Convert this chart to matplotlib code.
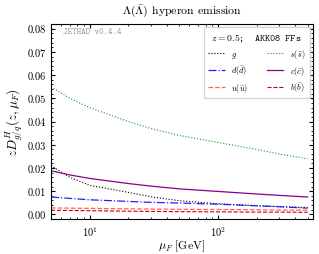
import matplotlib
matplotlib.use('Agg')
import matplotlib.pyplot as plt
import numpy as np

plt.rcParams['font.family'] = 'cmr10'
plt.rcParams['mathtext.fontset'] = 'cm'
plt.rcParams['axes.formatter.use_mathtext'] = True

mu = [5, 7, 10, 20, 30, 50, 100, 200, 300, 500]
ff_s = [0.055, 0.050, 0.046, 0.040, 0.037, 0.034, 0.031, 0.028, 0.026, 0.024]
ff_g = [0.021, 0.016, 0.0125, 0.0095, 0.0076, 0.0059, 0.0046, 0.0038, 0.0034, 0.003]
ff_c = [0.0188, 0.017, 0.0155, 0.0133, 0.0122, 0.011, 0.0099, 0.0088, 0.0082, 0.0075]
ff_d = [0.0075, 0.0069, 0.0063, 0.0056, 0.0052, 0.0049, 0.0044, 0.0037, 0.0033, 0.0027]
ff_u = [0.0028, 0.0027, 0.0026, 0.0024, 0.0023, 0.0022, 0.0021, 0.0020, 0.0019, 0.0018]
ff_b = [0.0018, 0.0017, 0.0016, 0.0014, 0.0013, 0.0012, 0.0011, 0.0010, 0.0010, 0.0009]

fig = plt.figure(figsize=(3.19, 2.55), dpi=100)
ax = fig.add_axes([0.16, 0.137, 0.821, 0.765])

ax.plot(mu, ff_g, color='black', ls=':', lw=0.8, label=r'$g$')
ax.plot(mu, ff_d, color='#2020ff', ls='-.', lw=0.9, label=r'$d(\bar{d})$')
ax.plot(mu, ff_u, color='#ff6060', ls='--', lw=0.9, label=r'$u(\bar{u})$')
ax.plot(mu, ff_s, color='#1a9a1a', ls=':', lw=0.8, label=r'$s(\bar{s})$')
ax.plot(mu, ff_c, color='#8b008b', ls='-', lw=0.9, label=r'$c(\bar{c})$')
ax.plot(mu, ff_b, color='#cc0000', ls='--', lw=0.8, label=r'$b(\bar{b})$')

ax.set_xscale('log')
ax.set_xlim(5, 550)
ax.set_ylim(-0.002, 0.082)
ax.set_yticks(np.arange(0, 0.081, 0.01))
ax.yaxis.set_major_formatter(matplotlib.ticker.FormatStrFormatter('%.2f'))
ax.yaxis.set_minor_locator(matplotlib.ticker.MultipleLocator(0.002))
ax.tick_params(which='both', direction='in', top=True, right=True, labelsize=7.5)
ax.tick_params(which='major', length=3)
ax.tick_params(which='minor', length=1.5)

ax.set_title(r'$\Lambda(\bar{\Lambda})$ hyperon emission', fontsize=8.5, pad=7)
ax.set_xlabel(r'$\mu_F\ [\mathrm{GeV}]$', fontsize=8.5, labelpad=0)
ax.set_ylabel(r'$zD^{H}_{g/q}(z,\mu_F)$', fontsize=9.5, labelpad=2)

ax.text(0.045, 0.985, 'JETHAD v0.4.4', transform=ax.transAxes, family='cmtt10',
        fontsize=6.2, color='#999999', va='top')

leg = ax.legend(ncol=2, loc='upper right', fontsize=6, frameon=True,
                title=r'$z = 0.5$;  ' + 'AKK08 FFs', title_fontsize=7,
                handlelength=2.0, columnspacing=2.2, borderpad=0.5,
                labelspacing=0.45, fancybox=False, edgecolor='#cccccc',
                borderaxespad=0.4)
leg.get_title().set_family('cmtt10')
for t in leg.get_texts():
    t.set_ha('right')

plt.savefig('out.png', dpi=100)
